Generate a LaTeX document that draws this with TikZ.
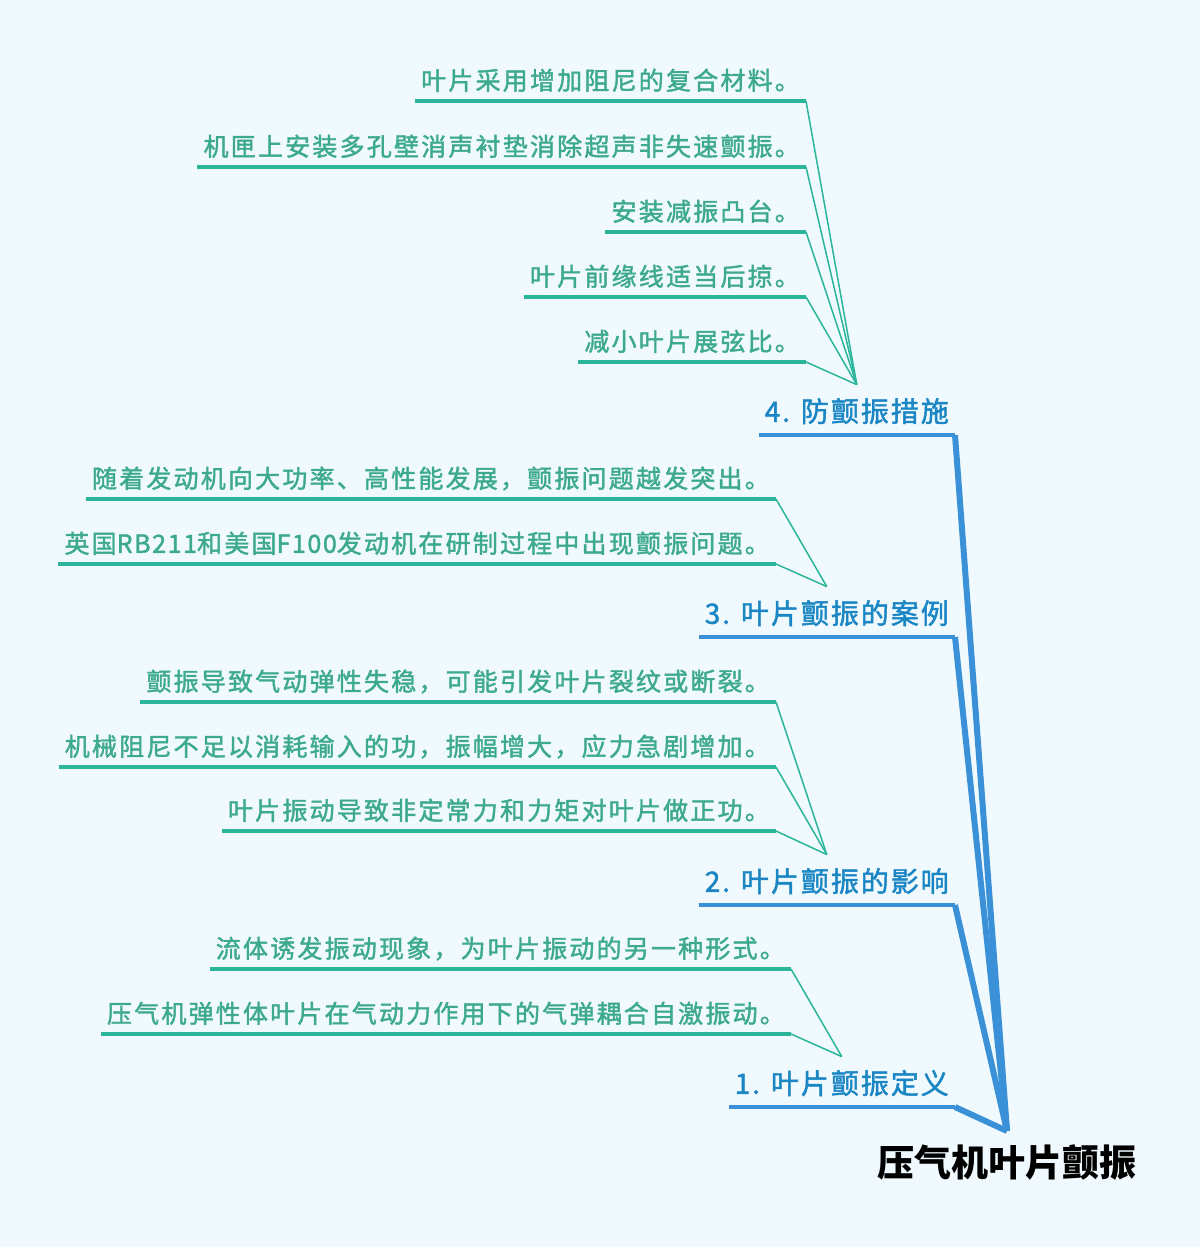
\documentclass[tikz,border=0pt]{standalone}
\usepackage{fontspec}
\setmainfont{Noto Sans CJK SC}
\newfontfamily\leaffont[LetterSpace=8.8, FakeBold=1.6]{Noto Sans CJK SC}
\newfontfamily\latinpart[LetterSpace=6.5, FakeBold=1.6]{Noto Sans CJK SC}
\newfontfamily\branchfont[LetterSpace=7, FakeBold=1.6]{Noto Sans CJK SC}
\usetikzlibrary{positioning}

\definecolor{bgcol}{HTML}{F0FAFE}
\definecolor{leaftext}{HTML}{3DAA8C}
\definecolor{leafline}{HTML}{2BB59A}
\definecolor{branchtext}{HTML}{1B86C4}
\definecolor{branchline}{HTML}{3A91D8}

\begin{document}
\begin{tikzpicture}
[x=1pt, y=-1pt,
leaf/.style={anchor=south east, inner xsep=6pt, inner ysep=9pt, text height=20pt, text depth=2pt, text=leaftext, font=\leaffont\fontsize{25pt}{30pt}\selectfont},
branch/.style={anchor=south east, inner xsep=6pt, inner ysep=11pt, text height=26pt, text depth=2pt, text=branchtext, font=\branchfont\fontsize{28pt}{34pt}\selectfont},
rootnode/.style={anchor=north, inner ysep=15pt, text height=30pt, text depth=3pt, font=\bfseries\fontsize{37pt}{43pt}\selectfont},
leafrule/.style={draw=leafline, line width=3.3pt},
leafedge/.style={draw=leafline, line width=1.5pt},
branchrule/.style={draw=branchline, line width=3.5pt},
branchedge/.style={draw=branchline, line width=6pt}
]

\fill[bgcol] (0,0) rectangle (1200,1247);
\useasboundingbox (0,0) rectangle (1200,1247);

% Root
\node[rootnode] (root) at (1007,1131) {压气机叶片颤振};

% Branch Nodes
\foreach \y/\i/\t in {435/4/4. 防颤振措施, 637/3/3. 叶片颤振的案例, 905/2/2. 叶片颤振的影响, 1107/1/1. 叶片颤振定义} {
  \node[branch] (b\i) at (955,\y) {\t};
  \draw[branchrule] (b\i.south west) -- (b\i.south east);
  \draw[branchedge] (b\i.south east) -- (root.north);
}

% Leaves - Branch 4
\foreach \y/\n/\t in {101/1/叶片采用增加阻尼的复合材料。, 167/2/机匣上安装多孔壁消声衬垫消除超声非失速颤振。, 232/3/安装减振凸台。, 297/4/叶片前缘线适当后掠。, 362/5/减小叶片展弦比。} {
  \node[leaf] (l4\n) at (806,\y) {\t};
  \draw[leafrule] (l4\n.south west) -- (l4\n.south east);
  \draw[leafedge] (l4\n.south east) -- (b4.north);
}

% Leaves - Branch 3
\foreach \y/\n/\t in {499/1/随着发动机向大功率、高性能发展，颤振问题越发突出。, 564/2/英国{\latinpart RB211}和美国{\latinpart F100}发动机在研制过程中出现颤振问题。} {
  \node[leaf] (l3\n) at (776,\y) {\t};
  \draw[leafrule] (l3\n.south west) -- (l3\n.south east);
  \draw[leafedge] (l3\n.south east) -- (b3.north);
}

% Leaves - Branch 2
\foreach \y/\n/\t in {702/1/颤振导致气动弹性失稳，可能引发叶片裂纹或断裂。, 767/2/机械阻尼不足以消耗输入的功，振幅增大，应力急剧增加。, 831/3/叶片振动导致非定常力和力矩对叶片做正功。} {
  \node[leaf] (l2\n) at (776,\y) {\t};
  \draw[leafrule] (l2\n.south west) -- (l2\n.south east);
  \draw[leafedge] (l2\n.south east) -- (b2.north);
}

% Leaves - Branch 1
\foreach \y/\n/\t in {969/1/流体诱发振动现象，为叶片振动的另一种形式。, 1034/2/压气机弹性体叶片在气动力作用下的气弹耦合自激振动。} {
  \node[leaf] (l1\n) at (791,\y) {\t};
  \draw[leafrule] (l1\n.south west) -- (l1\n.south east);
  \draw[leafedge] (l1\n.south east) -- (b1.north);
}
\end{tikzpicture}
\end{document}
